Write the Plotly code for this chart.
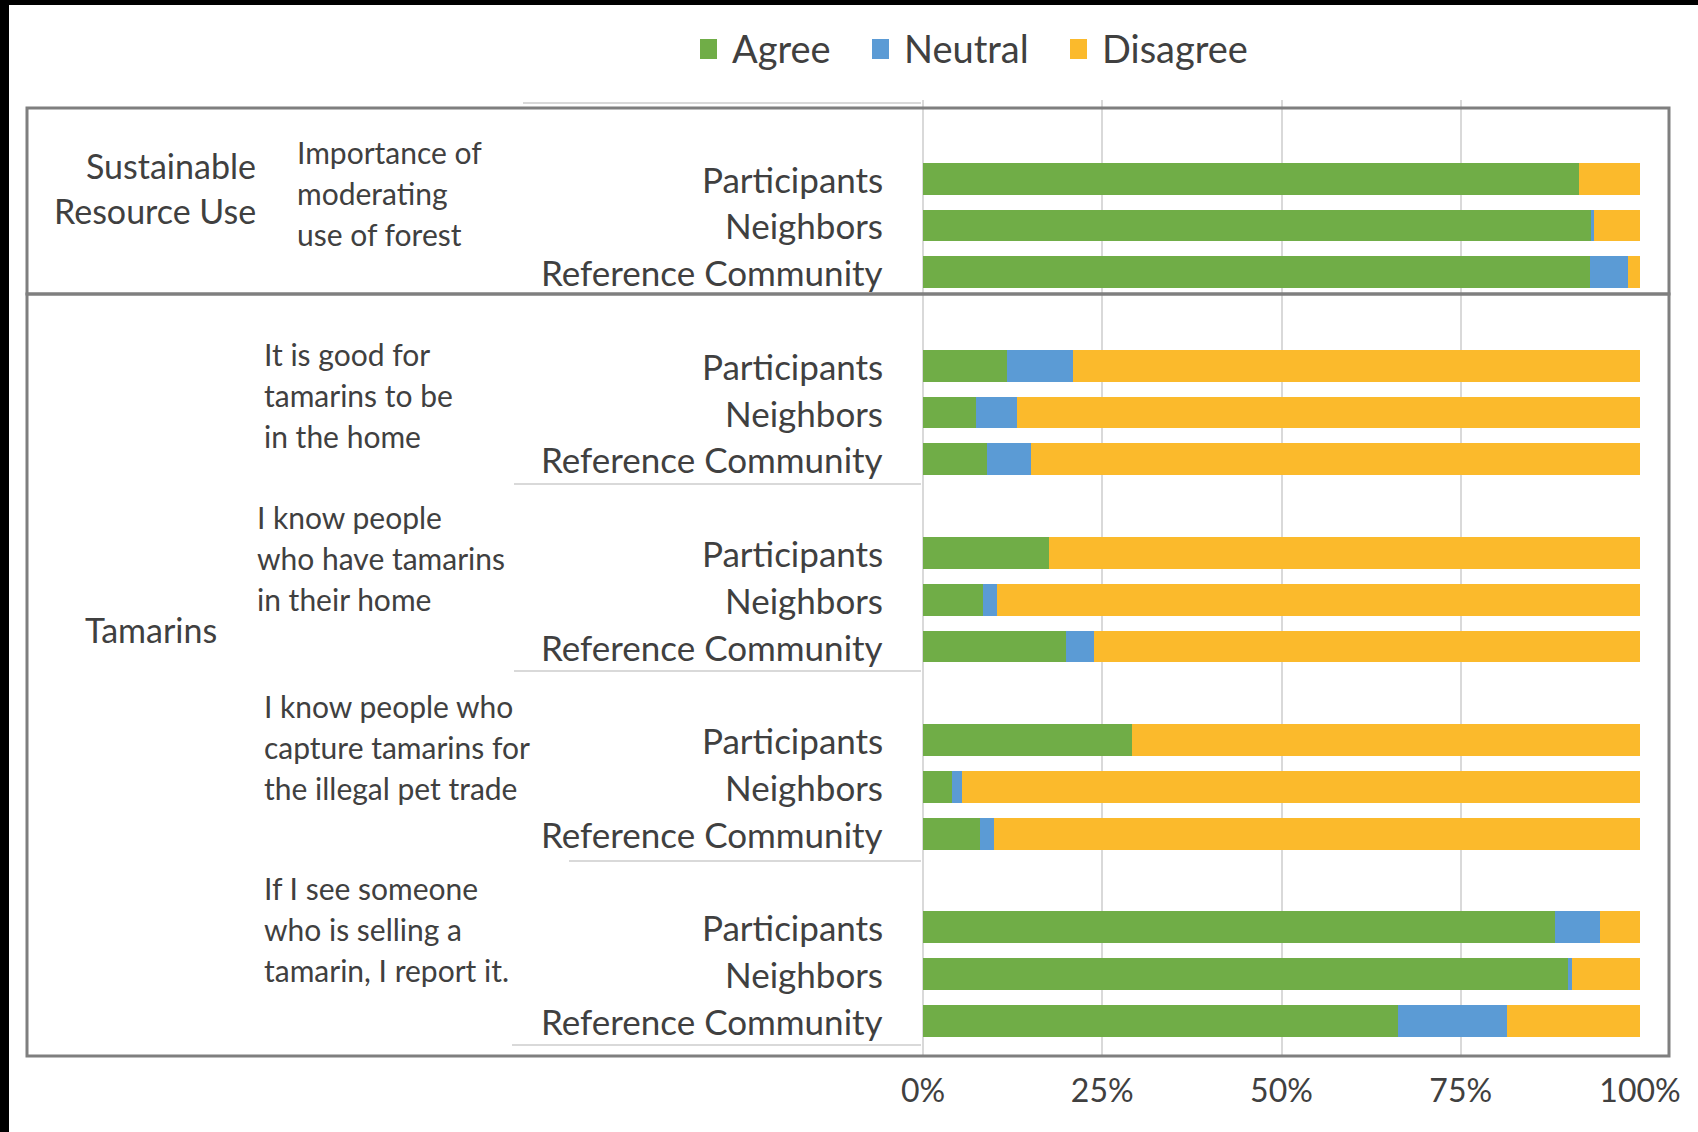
import plotly.graph_objects as go

W, H = 1698, 1132

# ---------------- data ----------------
groups = [["Sustainable", "Resource Use"], ["Tamarins"]]
questions = [
    ["Importance of", "moderating", "use of forest"],
    ["It is good for", "tamarins to be", "in the home"],
    ["I know people", "who have tamarins", "in their home"],
    ["I know people who", "capture tamarins for", "the illegal pet trade"],
    ["If I see someone", "who is selling a", "tamarin, I report it."],
]
respondents = ["Participants", "Neighbors", "Reference Community"]

agree = [91.5, 93.1, 93.0, 11.7, 7.4, 8.9, 17.6, 8.4, 20.0, 29.1, 4.1, 7.9, 88.1, 90.0, 66.2]
neutral = [0.0, 0.5, 5.3, 9.2, 5.7, 6.1, 0.0, 1.9, 3.9, 0.0, 1.4, 2.0, 6.3, 0.5, 15.2]
disagree = [8.5, 6.4, 1.7, 79.1, 86.9, 85.0, 82.4, 89.7, 76.1, 70.9, 94.5, 90.1, 5.6, 9.5, 18.6]

series_names = ["Agree", "Neutral", "Disagree"]
series_colors = ["#70AD47", "#5B9BD5", "#FBBA2C"]

x_ticks = [0, 25, 50, 75, 100]
x_ticktext = ["0%", "25%", "50%", "75%", "100%"]

# ---------------- layout helpers ----------------
SLOTS_PER_Q = len(respondents) + 1  # one empty slot between questions
ypos = []
for qi in range(len(questions)):
    for ri in range(len(respondents)):
        ypos.append(qi * SLOTS_PER_Q + ri)


def px(x):
    return x / W


def py(y):
    return 1 - y / H


TXT = "#404040"
FONT = "Lato"
LINE = 0.876  # text line spacing in slot units

fig = go.Figure()
for name, vals, col in zip(series_names, [agree, neutral, disagree], series_colors):
    fig.add_trace(go.Bar(
        x=vals, y=ypos, orientation="h", name=name, showlegend=False,
        marker=dict(color=col, line=dict(width=0)),
    ))

annotations = []
shapes = []

# respondent labels
for i, y in enumerate(ypos):
    annotations.append(dict(
        x=px(885), xref="paper", y=y, yref="y", text=respondents[i % len(respondents)],
        xanchor="right", yanchor="middle", showarrow=False,
        font=dict(family=FONT, size=35, color=TXT),
    ))

# question labels (first-line positions in slot units)
q_label_y = [-0.57, 3.75, 7.23, 11.27, 15.16]
q_label_x = [295, 262, 255, 262, 262]
for qi, lines in enumerate(questions):
    for li, line in enumerate(lines):
        annotations.append(dict(
            x=px(q_label_x[qi]), xref="paper", y=q_label_y[qi] + li * LINE, yref="y", text=line,
            xanchor="left", yanchor="middle", showarrow=False,
            font=dict(family=FONT, size=30, color=TXT),
        ))

# group labels
g_label_y = [-0.27, 9.64]
g_label_x = [258, 151]
g_anchor = ["right", "center"]
for gi, lines in enumerate(groups):
    for li, line in enumerate(lines):
        annotations.append(dict(
            x=px(g_label_x[gi]), xref="paper", y=g_label_y[gi] + li * 0.96, yref="y", text=line,
            xanchor=g_anchor[gi], yanchor="middle", showarrow=False,
            font=dict(family=FONT, size=34, color=TXT),
        ))

# manual legend
leg_sq_x = [700, 872, 1070]
for name, col, sx in zip(series_names, series_colors, leg_sq_x):
    shapes.append(dict(type="rect", xref="paper", yref="paper", x0=px(sx), x1=px(sx + 17),
                       y0=py(59), y1=py(39), fillcolor=col, line=dict(width=0)))
    annotations.append(dict(
        x=px(sx + 30), xref="paper", y=py(48), yref="paper", text=name,
        xanchor="left", yanchor="middle", showarrow=False,
        font=dict(family=FONT, size=38, color=TXT),
    ))

# light separators in label area
sep_lines = [(103, 523), (484, 514), (671, 514), (861, 569), (1045, 512)]
for yy, xs in sep_lines:
    shapes.append(dict(type="line", xref="paper", yref="paper", x0=px(xs), x1=px(921),
                       y0=py(yy), y1=py(yy), line=dict(color="#d9d9d9", width=2)))
# group boxes
shapes.append(dict(type="rect", xref="paper", yref="paper", x0=px(27), x1=px(1669),
                   y0=py(108), y1=py(294), line=dict(color="#7f7f7f", width=3)))
shapes.append(dict(type="rect", xref="paper", yref="paper", x0=px(27), x1=px(1669),
                   y0=py(294), y1=py(1056), line=dict(color="#7f7f7f", width=3)))
# black photo edges
shapes.append(dict(type="rect", xref="paper", yref="paper", x0=0, x1=px(9), y0=0, y1=1,
                   fillcolor="black", line=dict(width=0), layer="above"))
shapes.append(dict(type="rect", xref="paper", yref="paper", x0=0, x1=1, y0=py(5), y1=1,
                   fillcolor="black", line=dict(width=0), layer="above"))

fig.update_layout(
    width=W, height=H, autosize=False,
    margin=dict(l=0, r=0, t=0, b=0, pad=0, autoexpand=False),
    paper_bgcolor="white", plot_bgcolor="white",
    barmode="stack", bargap=0.32,
    font=dict(family=FONT, color=TXT),
    showlegend=False,
    xaxis=dict(domain=[px(923), px(1640)], range=[0, 100], tickvals=x_ticks, ticktext=x_ticktext,
               showgrid=True, gridcolor="#d9d9d9", gridwidth=2, zeroline=True,
               zerolinecolor="#d9d9d9", zerolinewidth=2, showline=False, automargin=False,
               ticks="outside", ticklen=7, tickcolor="rgba(0,0,0,0)",
               tickfont=dict(family=FONT, size=32, color=TXT)),
    yaxis=dict(domain=[py(1056), py(100)], range=[18.75, -1.68], showticklabels=False,
               showgrid=False, zeroline=False, showline=False, automargin=False),
    annotations=annotations, shapes=shapes,
)

fig.write_html("out.html")
